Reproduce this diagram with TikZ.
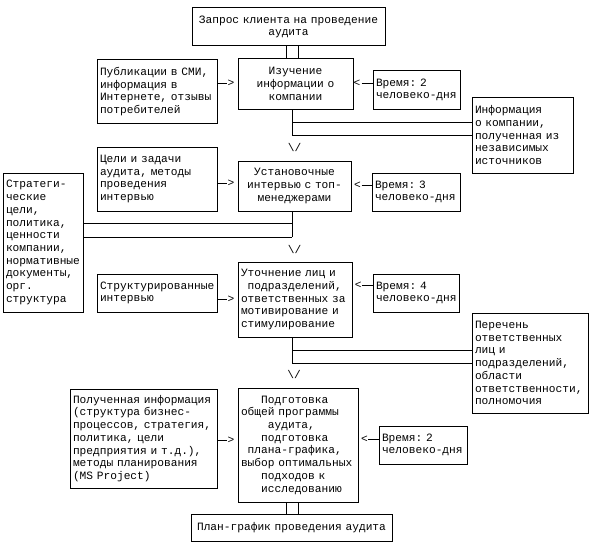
\documentclass[tikz,border=0pt]{standalone}
\usepackage{fontspec}
\newfontfamily\cour{Liberation Mono}
\newlength\mycw
\setlength\mycw{6.72pt}
\newcommand\indc[1]{\hspace*{#1\mycw}}
\hyphenpenalty=10000
\exhyphenpenalty=10000
\begin{document}
\begin{tikzpicture}[x=1pt,y=-1pt,
  txt/.style={font=\cour\fontsize{11.2}{12.7}\selectfont},
  box/.style={txt, draw, line width=1pt, anchor=north west, inner xsep=3pt, inner ysep=0pt, outer sep=0pt, align=left},
  cbox/.style={box, align=center},
  glyph/.style={txt, inner sep=0pt, outer sep=0pt},
  conn/.style={line width=1pt}]

\useasboundingbox[fill=white] (0,0) rectangle (589,543);

\node[cbox, text width=187pt, minimum height=38pt] (top) at (192,8) {Запрос~клиента~на~проведение\\аудита};
\node[cbox, text width=109pt, minimum height=50pt] (study) at (238,59) {Изучение\\информации~о\\компании};
\node[box, text width=114pt, minimum height=63pt] (pub) at (97,60) {Публикации~в~СМИ,\\информация~в\\Интернете,~отзывы\\потребителей};
\node[box, text width=81pt, minimum height=38pt] (t1) at (373,71) {Время:~2\\человеко-дня};
\node[box, text width=95pt, minimum height=76pt] (info) at (472,97) {Информация\\о~компании,\\полученная~из\\независимых\\источников};
\node[box, text width=114pt, minimum height=64pt] (goals) at (97,147) {Цели~и~задачи\\аудита,~методы\\проведения\\интервью};
\node[cbox, text width=107pt, minimum height=50pt] (b3) at (238,161) {Установочные\\интервью~с~топ-\\менеджерами};
\node[box, text width=82pt, minimum height=38pt] (t2) at (372,173) {Время:~3\\человеко-дня};
\node[box, text width=74pt, minimum height=139pt] (strat) at (3,173) {Стратеги-\\ческие\\цели,\\политика,\\ценности\\компании,\\нормативные\\документы,\\орг.\\структура};
\node[box, text width=108pt, minimum height=75pt] (b4) at (238,262) {Уточнение~лиц~и\\\indc{1}подразделений,\\ответственных~за\\мотивирование~и\\стимулирование};
\node[box, text width=114pt, minimum height=38pt] (struct) at (97,274) {Структурированные\\интервью};
\node[box, text width=80pt, minimum height=38pt] (t3) at (373,274) {Время:~4\\человеко-дня};
\node[box, text width=110pt, minimum height=100pt] (resp) at (472,313) {Перечень\\ответственных\\лиц~и\\подразделений,\\области\\ответственности,\\полномочия};
\node[box, text width=141pt, minimum height=99pt] (got) at (70,389) {Полученная~информация\\(структура~бизнес-\\процессов,~стратегия,\\политика,~цели\\предприятия~и~т.д.),\\методы~планирования\\(MS~Project)};
\node[box, text width=114pt, minimum height=114pt] (b5) at (238,388) {\indc{3}Подготовка\\общей~программы\\\indc{4}аудита,\\\indc{3}подготовка\\\indc{1}плана-графика,\\выбор~оптимальных\\\indc{3}подходов~к\\\indc{3}исследованию};
\node[box, text width=82pt, minimum height=38pt] (t4) at (379,426) {Время:~2\\человеко-дня};
\node[cbox, text width=195pt, minimum height=27pt] (fin) at (191,514) {План-график~проведения~аудита};

\coordinate (cL) at (286,0);
\coordinate (cR) at (298,0);
\coordinate (cM) at (292,0);

\draw[conn] (top.south -| cL) -- (study.north -| cL);
\draw[conn] (top.south -| cR) -- (study.north -| cR);

\coordinate (j1a) at (292,122.5);
\coordinate (j1b) at (292,135);
\draw[conn] (study.south -| cM) -- (j1b);
\draw[conn] (j1a) -- (j1a -| info.west);
\draw[conn] (j1b) -- (j1b -| info.west);
\node[glyph] (d1) at (294.5,147) {\textbackslash/};

\coordinate (j2a) at (292,223);
\coordinate (j2b) at (292,237);
\draw[conn] (b3.south -| cM) -- (j2b);
\draw[conn] (strat.east |- j2a) -- (j2a);
\draw[conn] (strat.east |- j2b) -- (j2b);
\node[glyph] (d2) at (294.5,249.5) {\textbackslash/};

\coordinate (j3a) at (292,350);
\coordinate (j3b) at (292,363);
\draw[conn] (b4.south -| cM) -- (j3b);
\draw[conn] (j3a) -- (j3a -| resp.west);
\draw[conn] (j3b) -- (j3b -| resp.west);
\node[glyph] (d3) at (294,374) {\textbackslash/};

\draw[conn] (b5.south -| cL) -- (fin.north -| cL);
\draw[conn] (b5.south -| cR) -- (fin.north -| cR);

% left arrows
\coordinate (e1) at (227,83.3);
\draw[conn] (pub.east |- e1) -- (e1);
\node[glyph] (g1) at (231,83.3) {>};
\coordinate (e2) at (227,183.3);
\draw[conn] (goals.east |- e2) -- (e2);
\node[glyph] (g2) at (231,183.3) {>};
\coordinate (e3) at (227,299);
\draw[conn] (struct.east |- e3) -- (e3);
\node[glyph] (g3) at (231,299) {>};
\coordinate (e4) at (227,440);
\draw[conn] (got.east |- e4) -- (e4);
\node[glyph] (g4) at (231,440) {>};

% right arrows
\coordinate (f1) at (361.5,83.3);
\draw[conn] (f1) -- (f1 -| t1.west);
\node[glyph] (h1) at (357,83.3) {<};
\coordinate (f2) at (361.7,185);
\draw[conn] (f2) -- (f2 -| t2.west);
\node[glyph] (h2) at (357.5,185) {<};
\coordinate (f3) at (362,285);
\draw[conn] (f3) -- (f3 -| t3.west);
\node[glyph] (h3) at (358.3,285) {<};
\coordinate (f4) at (368,439);
\draw[conn] (f4) -- (f4 -| t4.west);
\node[glyph] (h4) at (364.5,439) {<};
\end{tikzpicture}
\end{document}
